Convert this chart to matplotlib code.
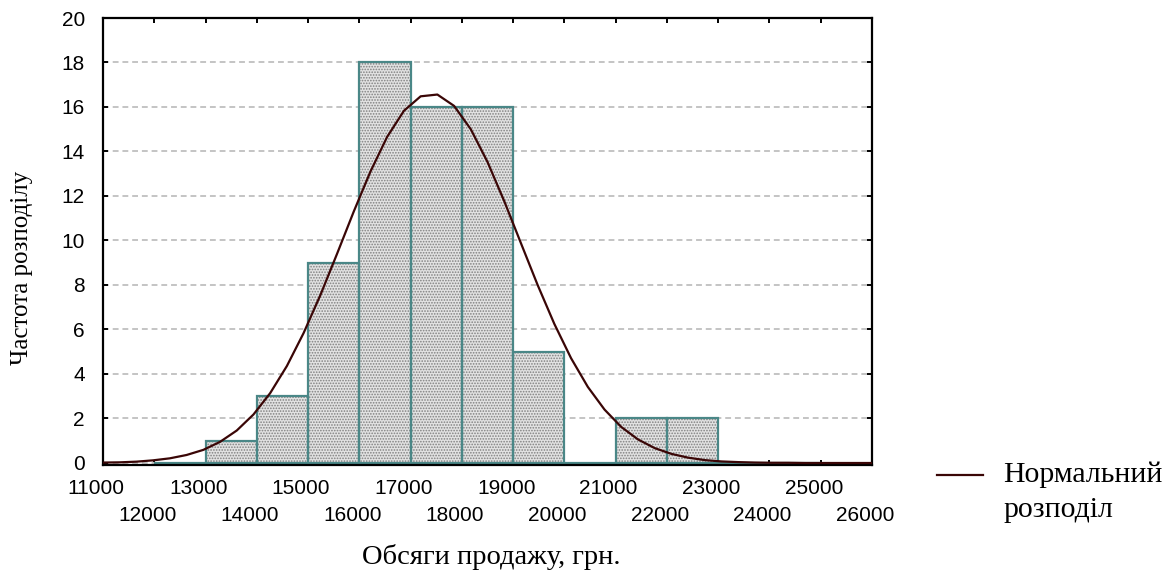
import matplotlib
matplotlib.use("Agg")
import matplotlib.pyplot as plt
from matplotlib.ticker import MultipleLocator, FormatStrFormatter
from matplotlib.transforms import ScaledTranslation
from matplotlib.lines import Line2D

# ---- data ----
bin_left = [12000, 13000, 14000, 15000, 16000, 17000, 18000, 19000, 20000,
            21000, 22000, 23000, 24000]
counts = [0, 1, 3, 9, 18, 16, 16, 5, 0, 2, 2, 0, 0]
bin_width = 1000

curve_x = [11000, 11326, 11652, 11978, 12304, 12630, 12957, 13283, 13609, 13935,
           14261, 14587, 14913, 15239, 15565, 15891, 16217, 16543, 16870, 17196,
           17522, 17848, 18174, 18500, 18826, 19152, 19478, 19804, 20130, 20457,
           20783, 21109, 21435, 21761, 22087, 22413, 22739, 23065, 23391, 23717,
           24043, 24370, 24696, 25022, 25348, 25674, 26000]
curve_y = [0.02, 0.03, 0.06, 0.12, 0.21, 0.36, 0.59, 0.95, 1.46, 2.18,
           3.14, 4.36, 5.84, 7.54, 9.40, 11.30, 13.10, 14.66, 15.83, 16.48,
           16.56, 16.05, 15.00, 13.53, 11.77, 9.88, 8.00, 6.25, 4.71, 3.42,
           2.40, 1.62, 1.06, 0.67, 0.41, 0.24, 0.13, 0.07, 0.04, 0.02,
           0.01, 0.01, 0.0, 0.0, 0.0, 0.0, 0.0]

xlabel = "Обсяги продажу, грн."
ylabel = "Частота розподілу"
legend_lines = ["Нормальний", "розподіл"]

# ---- style ----
W, H, DPI = 1167, 574, 100
plt.rcParams['hatch.linewidth'] = 0.8
plt.rcParams['hatch.color'] = '#808080'
sans = ['Liberation Sans', 'DejaVu Sans']
serif = ['Liberation Serif', 'DejaVu Serif']
teal = '#4a8787'
curve_col = '#3a0606'

fig = plt.figure(figsize=(W / DPI, H / DPI), dpi=DPI)
ax = fig.add_axes([103 / W, 1 - 465 / H, (872 - 103) / W, (465 - 18) / H])

ax.set_xlim(11000, 26000)
ax.set_ylim(-0.09, 20)

ax.yaxis.set_major_locator(MultipleLocator(2))
ax.yaxis.grid(True, linestyle=(0, (3, 2)), color='#c4c4c4', linewidth=1.4, zorder=0)
ax.set_axisbelow(True)

# stippled fill
ax.bar(bin_left, counts, width=bin_width, align='edge', facecolor='#e2e2e2',
       edgecolor='#808080', hatch='......', linewidth=0, zorder=1)
# outlines
ax.bar(bin_left, counts, width=bin_width, align='edge', facecolor='none',
       edgecolor=teal, linewidth=1.6, zorder=2)

ax.plot(curve_x, curve_y, color=curve_col, linewidth=1.6, zorder=4)

for s in ax.spines.values():
    s.set_linewidth(1.6)
    s.set_color('black')
    s.set_zorder(3)

ax.set_xticks(list(range(11000, 26001, 2000)))
ax.set_xticks(list(range(12000, 26001, 2000)), minor=True)
ax.xaxis.set_major_formatter(FormatStrFormatter('%d'))
ax.xaxis.set_minor_formatter(FormatStrFormatter('%d'))

ax.tick_params(axis='both', which='both', direction='in', length=3.5, width=1.4,
               top=True, right=True, labelsize=15, colors='black')
ax.tick_params(axis='x', which='major', pad=10.2)
ax.tick_params(axis='x', which='minor', pad=29.2)
ax.tick_params(axis='y', which='major', pad=13)

for lab in ax.get_xticklabels(which='both') + ax.get_yticklabels():
    lab.set_family(sans)

fig.canvas.draw()
off = ScaledTranslation(-7 / DPI, 0, fig.dpi_scale_trans)
for t in ax.xaxis.get_major_ticks() + ax.xaxis.get_minor_ticks():
    t.label1.set_transform(t.label1.get_transform() + off)

fig.text(491 / W, 1 - 557 / H, xlabel, ha='center', va='center',
         fontsize=20.5, family=serif)
fig.text(22 / W, 1 - 268 / H, ylabel, ha='center', va='center', rotation=90,
         fontsize=18, family=serif)

# legend
fig.add_artist(Line2D([937 / W, 983 / W], [1 - 475 / H, 1 - 475 / H],
                      color=curve_col, linewidth=1.6))
fig.text(1003 / W, 1 - 475 / H, legend_lines[0], ha='left', va='center',
         fontsize=21.5, family=serif)
fig.text(1003 / W, 1 - 510 / H, legend_lines[1], ha='left', va='center',
         fontsize=21.5, family=serif)

fig.savefig('out.png', dpi=DPI)
